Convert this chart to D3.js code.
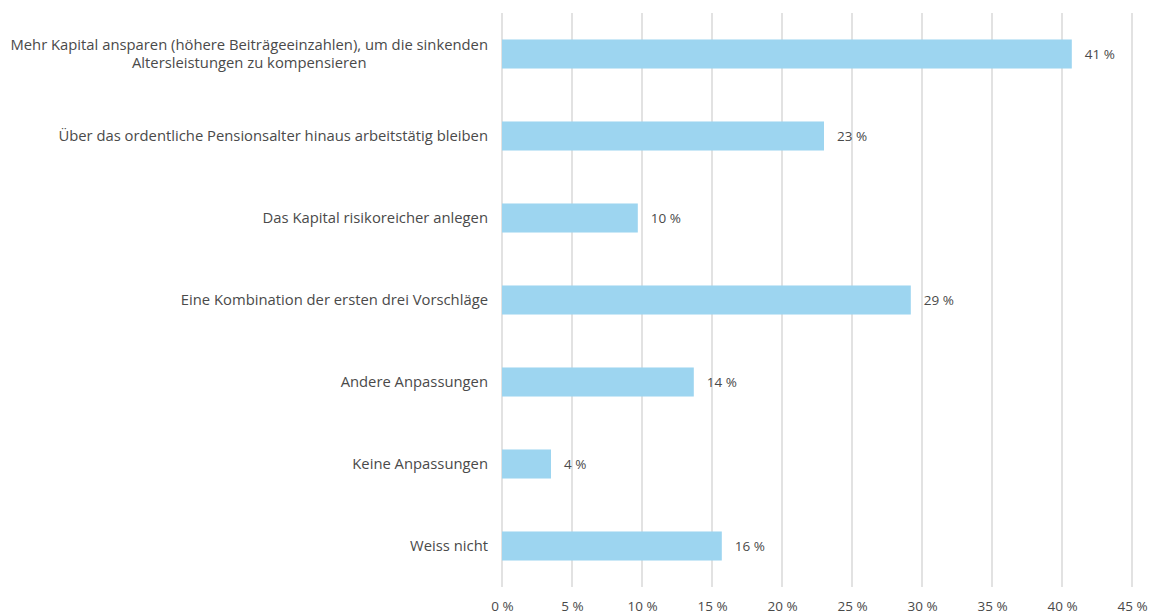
<!DOCTYPE html>
<html>
<head>
<meta charset="utf-8">
<script src="https://cdn.jsdelivr.net/npm/d3@7"></script>
<style>
  html, body { margin: 0; padding: 0; background: #fff; }
  svg { display: block; }
  text { font-family: "Open Sans", "Noto Sans", sans-serif; fill: #4a4a4a; }
</style>
</head>
<body>
<svg id="chart" width="1149" height="615"></svg>
<script>
const categories = [
  ["Mehr Kapital ansparen (höhere Beiträgeeinzahlen), um die sinkenden", "Altersleistungen zu kompensieren"],
  ["Über das ordentliche Pensionsalter hinaus arbeitstätig bleiben"],
  ["Das Kapital risikoreicher anlegen"],
  ["Eine Kombination der ersten drei Vorschläge"],
  ["Andere Anpassungen"],
  ["Keine Anpassungen"],
  ["Weiss nicht"]
];
const values = [40.7, 23.0, 9.7, 29.2, 13.7, 3.5, 15.7];
const valueLabels = ["41 %", "23 %", "10 %", "29 %", "14 %", "4 %", "16 %"];
const tickValues = [0, 5, 10, 15, 20, 25, 30, 35, 40, 45];
const tickLabels = ["0 %", "5 %", "10 %", "15 %", "20 %", "25 %", "30 %", "35 %", "40 %", "45 %"];

const svg = d3.select("#chart");
const margin = {left: 502, right: 17, top: 13, bottom: 28};
const W = 1149, H = 615;

const x = d3.scaleLinear().domain([0, 45]).range([margin.left, W - margin.right]);
const y = d3.scaleBand().domain(d3.range(categories.length))
  .range([margin.top, H - margin.bottom]).paddingInner(0.646).paddingOuter(0.323);

// gridlines
svg.append("g").selectAll("line").data(tickValues).join("line")
  .attr("x1", d => x(d)).attr("x2", d => x(d))
  .attr("y1", margin.top).attr("y2", H - margin.bottom)
  .attr("stroke", "#d9d9d9").attr("stroke-width", 1.5);

// tick labels
const xAxis = d3.axisBottom(x).tickValues(tickValues)
  .tickFormat((d, i) => tickLabels[i]).tickSize(0).tickPadding(14);
const gx = svg.append("g").attr("transform", `translate(0,${H - margin.bottom})`).call(xAxis);
gx.select(".domain").remove();
gx.selectAll("text").style("font-family", '"Open Sans", "Noto Sans", sans-serif')
  .style("font-size", "13.5px").attr("fill", "#4a4a4a");

// bars
svg.append("g").selectAll("rect").data(values).join("rect")
  .attr("x", x(0)).attr("y", (d, i) => y(i))
  .attr("width", d => x(d) - x(0)).attr("height", y.bandwidth())
  .attr("fill", "#9dd5f0");

// value labels
svg.append("g").selectAll("text").data(values).join("text")
  .attr("x", d => x(d) + 13).attr("y", (d, i) => y(i) + y.bandwidth() / 2)
  .attr("dy", "0.35em").attr("font-size", 13.5)
  .text((d, i) => valueLabels[i]);

// category labels
const cat = svg.append("g").selectAll("text").data(categories).join("text")
  .attr("text-anchor", "middle").attr("font-size", 14.8);
cat.each(function(lines, i) {
  const t = d3.select(this);
  const cy = y(i) + y.bandwidth() / 2;
  const lh = 18;
  const startY = cy - (lines.length - 1) * lh / 2;
  lines.forEach((ln, j) => {
    t.append("tspan").attr("x", 0).attr("y", startY + j * lh).attr("dy", "0.35em").text(ln);
  });
});
cat.each(function() {
  const t = d3.select(this);
  const spans = t.selectAll("tspan").nodes();
  const maxW = d3.max(spans, s => s.getComputedTextLength());
  const cx = 488 - maxW / 2;
  spans.forEach(s => d3.select(s).attr("x", cx));
});
</script>
</body>
</html>
